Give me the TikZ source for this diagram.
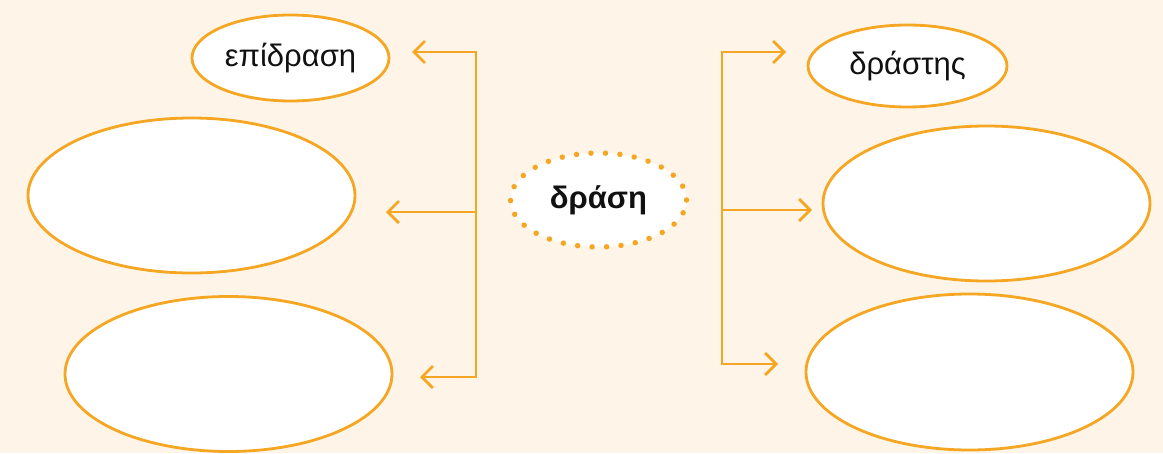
\documentclass[tikz,border=0pt]{standalone}
\usepackage{fontspec}
\setmainfont{Liberation Sans}
\usetikzlibrary{shapes.geometric,arrows.meta}
\definecolor{bg}{RGB}{254,245,232}
\definecolor{org}{RGB}{245,166,35}
\definecolor{ink}{RGB}{17,17,17}
\begin{document}
\begin{tikzpicture}[x=1pt,y=-1pt,
  oval/.style={ellipse,draw=org,line width=2.8pt,fill=white,inner sep=0pt,text=ink,font=\fontsize{31}{36}\selectfont},
  link/.style={draw=org,line width=2.8pt},
  barb/.tip={Straight Barb[length=11pt,width=22pt]}]
\fill[bg] (0,0) rectangle (1163,453);
\useasboundingbox (0,0) rectangle (1163,453);
% left ovals
\node[oval,minimum width=197pt,minimum height=86pt] (l1) at (290.5,58) {επίδραση};
\node[oval,minimum width=327pt,minimum height=155pt] (l2) at (191.5,195.5) {};
\node[oval,minimum width=327pt,minimum height=155pt] (l3) at (228.5,374) {};
% right ovals
\node[oval,minimum width=199pt,minimum height=82pt] (r1) at (907.5,66) {δράστης};
\node[oval,minimum width=327pt,minimum height=155pt] (r2) at (986.5,203.5) {};
\node[oval,minimum width=327pt,minimum height=156pt] (r3) at (969.5,372) {};
% centre
\node[ellipse,fill=white,draw=org,line width=5.5pt,line cap=round,dash pattern=on 0pt off 14.5pt,
      minimum width=176pt,minimum height=94pt,inner sep=0pt,text=ink,
      font=\fontsize{31}{36}\selectfont\bfseries] (c) at (598.5,200) {δράση};
% connector coordinates
\coordinate (la) at (476,52);
\coordinate (lb) at (476,212);
\coordinate (lc) at (476,377);
\coordinate (la1) at (412,52);
\coordinate (lb1) at (386,212);
\coordinate (lc1) at (420,377);
\coordinate (ra) at (722,52);
\coordinate (rb) at (722,210);
\coordinate (rc) at (722,364);
\coordinate (ra1) at (786,52);
\coordinate (rb1) at (812,210);
\coordinate (rc1) at (778,364);
\draw[link,barb-barb] (la1) -- (la) -- (lc) -- (lc1);
\draw[link,-barb] (lb) -- (lb1);
\draw[link,barb-barb] (ra1) -- (ra) -- (rc) -- (rc1);
\draw[link,-barb] (rb) -- (rb1);
\end{tikzpicture}
\end{document}
